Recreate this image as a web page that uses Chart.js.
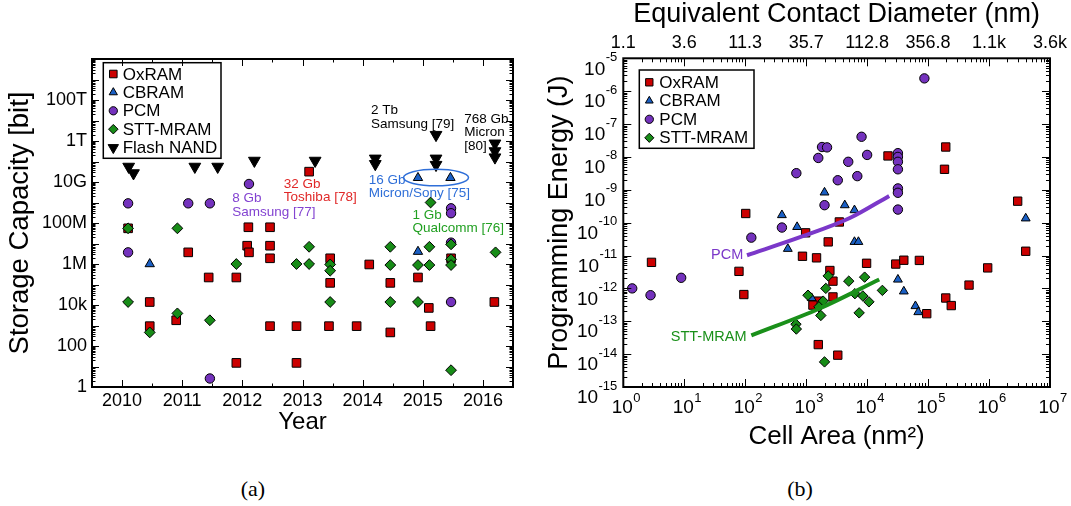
<!DOCTYPE html>
<html>
<head>
<meta charset="utf-8">
<title>Storage capacity and programming energy</title>
<script src="https://cdn.jsdelivr.net/npm/chart.js@4.4.1/dist/chart.umd.min.js"></script>
<style>
  body { margin: 0; background: #fff; }
  #page { position: relative; width: 1071px; height: 506px; overflow: hidden; background: #fff; }
  canvas { position: absolute; top: 0; }
  #chartA { left: 0; }
  #chartB { left: 535px; }
  .caption { position: absolute; top: 476px; width: 60px; text-align: center; font: 22px "Liberation Serif", serif; color: #000; }
</style>
</head>
<body>
<div id="page">
  <canvas id="chartA" width="535" height="470"></canvas>
  <canvas id="chartB" width="536" height="470"></canvas>
  <div class="caption" style="left:223px">(a)</div>
  <div class="caption" style="left:770px">(b)</div>
</div>
<script>
const FONT = "'Liberation Sans', Arial, sans-serif";
Chart.defaults.font.family = FONT;
Chart.defaults.color = '#000';

const RED = '#cc0000', BLUE = '#1a5fc4', PURPLE = '#7432bd', GREEN = '#178c17';

// ---------- (a) storage capacity per year ----------
const years = [2010, 2011, 2012, 2013, 2014, 2015, 2016];
const capTicks = [1, 1e2, 1e4, 1e6, 1e8, 1e10, 1e12, 1e14];
const capLabels = ['1', '100', '10k', '1M', '100M', '10G', '1T', '100T'];

const oxYear = [2010.1, 2012.1, 2012.46, 2012.08, 2012.11, 2012.46, 2012.46, 2011.1, 2011.44, 2011.9,
  2010.46, 2010.9, 2010.46, 2012.46, 2012.9, 2013.44, 2013.9, 2015.13, 2011.9, 2012.9,
  2013.11, 2013.46, 2013.46, 2014.11, 2014.46, 2014.46, 2014.92, 2015.1, 2015.47, 2016.19];
const oxBits = [5.5e7, 6.2e7, 6.2e7, 7.8e6, 3.7e6, 7.8e6, 1.9e6, 3.7e6, 2.2e5, 2.2e5,
  1.4e4, 1.8e3, 930, 930, 930, 930, 930, 930, 15, 15,
  3.2e10, 1.9e6, 1.2e5, 9.5e5, 1.2e5, 460, 2.2e5, 7.2e3, 1.9e6, 1.4e4];

const cbYear = [2010.46, 2014.92, 2015.46, 2014.92];
const cbBits = [1e6, 1.6e10, 1.6e10, 4e6];

const pcmYear = [2010.1, 2011.1, 2011.46, 2012.11, 2010.1, 2011.46, 2015.47, 2015.47, 2015.47, 2015.47];
const pcmBits = [9.1e8, 9.1e8, 9.1e8, 8e9, 3.7e6, 2.6, 5.2e8, 3e8, 1.1e7, 1.4e4];

const sttYear = [2010.1, 2010.92, 2013.11, 2011.9, 2012.9, 2013.11, 2010.1, 2010.92, 2011.46, 2010.46,
  2013.46, 2013.46, 2013.46, 2014.46, 2014.46, 2014.46, 2014.92, 2014.92, 2015.11, 2015.11,
  2015.13, 2015.47, 2015.47, 2015.47, 2015.47, 2016.21];
const sttBits = [5.5e7, 5.5e7, 6.9e6, 1e6, 1e6, 1e6, 1.4e4, 3.9e3, 1.8e3, 460,
  9.5e5, 4.7e5, 1.4e4, 6.9e6, 8.9e5, 1.4e4, 8.9e5, 1.4e4, 6.9e6, 8.9e5,
  1e9, 9.1e6, 1.7e6, 8.9e5, 6.6, 3.7e6];

const nandYear = [2010.11, 2010.19, 2011.21, 2011.59, 2012.2, 2013.21, 2014.21, 2014.21,
  2015.22, 2015.22, 2015.22, 2016.2, 2016.2, 2016.2];
const nandBits = [5.6e10, 2.7e10, 5.6e10, 5.6e10, 1.1e11, 1.1e11, 1.4e11, 7.6e10,
  2e12, 1.4e11, 6.9e10, 7.6e11, 3.2e11, 1.6e11];

// text notes beside the product points
const notesA = [
  { lines: ['8 Gb', 'Samsung [77]'], x: 2011.83, y: 1.6e9, color: '#8343d1' },
  { lines: ['32 Gb', 'Toshiba [78]'], x: 2012.69, y: 8.1e9, color: '#e02828' },
  { lines: ['2 Tb', 'Samsung [79]'], x: 2014.14, y: 3.1e13, color: '#000' },
  { lines: ['768 Gb', 'Micron', '[80]'], x: 2015.69, y: 1.17e13, color: '#000' },
  { lines: ['16 Gb', 'Micron/Sony [75]'], x: 2014.1, y: 1.26e10, color: '#2f6fd8' },
  { lines: ['1 Gb', 'Qualcomm [76]'], x: 2014.83, y: 2.45e8, color: '#22a022' }
];
const ringA = { x0: 2014.68, x1: 2015.76, y0: 6.5e9, y1: 4.2e10, color: '#2f6fd8' };

// ---------- (b) programming energy vs. cell area ----------
const areaPowers = ['0', '1', '2', '3', '4', '5', '6', '7'];
const energyPowers = ['-15', '-14', '-13', '-12', '-11', '-10', '-9', '-8', '-7', '-6', '-5'];
const areaTicks = areaPowers.map(p => 10 ** Number(p));
const diameterLabels = ['1.1', '3.6', '11.3', '35.7', '112.8', '356.8', '1.1k', '3.6k'];

const oxArea = [102, 2.2e4, 1.95e5, 1.86e5, 2.95e6, 3.5e3, 4.0e6, 2.3e3, 9.8e3, 2.95e4,
  4.0e4, 7.2e4, 9.5e5, 4.7e5, 1.95e5, 2.4e5, 9.5e4, 3.3e3, 2.75e3, 2.45e3,
  2.75e3, 980, 870, 1.48e3, 1.58e3, 1.29e3, 1.58e3, 2.9, 79, 95];
const oxEnergy = [1.9e-10, 1.07e-8, 2.0e-8, 4.2e-9, 4.5e-10, 1.05e-10, 1.35e-11, 2.6e-11, 5.8e-12, 5.5e-12,
  7.2e-12, 7.1e-12, 4.2e-12, 1.26e-12, 5.1e-13, 3.0e-13, 1.7e-13, 9.3e-15, 1.66e-12, 3.5e-12,
  5.5e-13, 4.9e-11, 9.5e-12, 8.5e-12, 4.1e-13, 3.1e-13, 1.95e-14, 6.2e-12, 3.3e-12, 6.5e-13];

const cbArea = [2.0e3, 400, 4.3e3, 6.2e3, 4.0e6, 6.2e3, 7.2e3, 3.2e4, 4.0e4, 6.2e4, 6.9e4, 710, 500, 1.23e3];
const cbEnergy = [8.3e-10, 1.7e-10, 3.4e-10, 2.4e-10, 1.35e-10, 2.6e-11, 2.6e-11, 1.86e-12, 8.1e-13, 2.9e-13,
  1.9e-13, 7.4e-11, 1.6e-11, 5.1e-13];

const pcmArea = [8.7e4, 1.82e3, 2.2e3, 1.58e3, 690, 3.3e3, 2.0e3, 8.1e3, 1.0e4, 4.9e3,
  6.9e3, 3.2e4, 3.2e4, 3.2e4, 3.2e4, 3.2e4, 3.2e4, 3.2e4, 400, 126,
  8.9, 1.4, 2.8];
const pcmEnergy = [2.45e-6, 2.0e-8, 1.95e-8, 9.3e-9, 3.2e-9, 1.95e-9, 3.4e-10, 4.1e-8, 1.15e-8, 7.1e-9,
  2.6e-9, 1.3e-8, 1.0e-8, 7.1e-9, 4.2e-9, 1.1e-9, 8.1e-10, 2.5e-10, 7.1e-11, 3.5e-11,
  2.1e-12, 1.0e-12, 6.2e-13];

const sttArea = [5.0e3, 9.1e3, 1.78e4, 6.3e3, 8.5e3, 1.07e4, 7.4e3, 2.3e3, 2.1e3, 1.07e3,
  1.9e3, 1.62e3, 1.74e3, 680, 690, 2.0e3];
const sttEnergy = [1.66e-12, 2.2e-12, 8.7e-13, 6.9e-13, 5.9e-13, 3.9e-13, 1.8e-13, 2.4e-12, 1.0e-12, 6.2e-13,
  4.1e-13, 2.75e-13, 1.5e-13, 8.1e-14, 5.8e-14, 5.8e-15];

// trend lines
const pcmFitArea = [107, 794, 5.2e3, 2.3e4];
const pcmFitEnergy = [1.02e-11, 3.6e-11, 1.38e-10, 6.5e-10];
const sttFitArea = [126, 1.66e3, 1.58e4];
const sttFitEnergy = [3.7e-14, 2.45e-13, 1.86e-12];

const lineNotesB = [
  { text: 'PCM', x: 93, y: 1.02e-11, color: '#7b38c9' },
  { text: 'STT-MRAM', x: 105, y: 3.3e-14, color: '#1a901a' }
];

// ---------- helpers ----------
const pts = (xs, ys) => xs.map((x, i) => ({ x, y: ys[i] }));
const decades = (lo, hi) => { const out = []; for (let e = lo; e <= hi; e++) out.push(10 ** e); return out; };
const minorLog = (lo, hi) => {
  const out = [];
  for (let e = lo; e < hi; e++) for (let k = 2; k < 10; k++) out.push(k * 10 ** e);
  return out;
};
const marker = (label, data, color, style, r, order, rot) => ({
  label, data, backgroundColor: color, borderColor: '#000', borderWidth: 1,
  pointStyle: style, pointRadius: r, pointRotation: rot || 0, order
});

// box and inward tick marks on all four sides
function frame(cfg) {
  return {
    id: 'frame',
    afterDatasetsDraw(chart) {
      const { ctx, chartArea: a } = chart;
      const xs = chart.scales.x, ys = chart.scales.y;
      ctx.save();
      ctx.strokeStyle = '#000';
      ctx.lineWidth = 1;
      ctx.beginPath();
      const vTicks = (vals, len) => vals.forEach(v => {
        const p = Math.round(xs.getPixelForValue(v)) + 0.5;
        ctx.moveTo(p, a.bottom); ctx.lineTo(p, a.bottom - len);
        ctx.moveTo(p, a.top); ctx.lineTo(p, a.top + len);
      });
      const hTicks = (vals, len) => vals.forEach(v => {
        const p = Math.round(ys.getPixelForValue(v)) + 0.5;
        ctx.moveTo(a.left, p); ctx.lineTo(a.left + len, p);
        ctx.moveTo(a.right, p); ctx.lineTo(a.right - len, p);
      });
      vTicks(cfg.xMajor, cfg.major); vTicks(cfg.xMinor, cfg.minor);
      hTicks(cfg.yMajor, cfg.major); hTicks(cfg.yMinor, cfg.minor);
      ctx.stroke();
      ctx.lineWidth = 2;
      ctx.strokeRect(a.left, a.top, a.right - a.left, a.bottom - a.top);
      ctx.restore();
    }
  };
}

// legend in a framed box inside the plot
function boxLegend(cfg) {
  return {
    id: 'boxLegend',
    afterDatasetsDraw(chart) {
      const { ctx, chartArea: a } = chart;
      const x0 = a.left + cfg.dx, y0 = a.top + cfg.dy;
      ctx.save();
      ctx.fillStyle = '#fff';
      ctx.fillRect(x0, y0, cfg.w, cfg.h);
      ctx.strokeStyle = '#000';
      ctx.lineWidth = 1.5;
      ctx.strokeRect(x0, y0, cfg.w, cfg.h);
      ctx.font = `${cfg.size}px ${FONT}`;
      ctx.textBaseline = 'middle';
      cfg.items.forEach((idx, i) => {
        const ds = chart.data.datasets[idx];
        const y = y0 + cfg.first + i * cfg.row;
        ctx.fillStyle = ds.backgroundColor;
        ctx.strokeStyle = '#000';
        ctx.lineWidth = 1;
        Chart.helpers.drawPoint(ctx, {
          pointStyle: ds.pointStyle, rotation: ds.pointRotation || 0,
          radius: ds.pointRadius * 0.88, borderWidth: 1
        }, x0 + cfg.mark, y);
        ctx.fillStyle = '#000';
        ctx.fillText(ds.label, x0 + cfg.text, y + 1);
      });
      ctx.restore();
    }
  };
}

// product notes and the ring around the CBRAM pair
const notesPlugin = {
  id: 'notes',
  afterDatasetsDraw(chart) {
    const { ctx } = chart;
    const xs = chart.scales.x, ys = chart.scales.y;
    ctx.save();
    ctx.font = `13.5px ${FONT}`;
    ctx.textAlign = 'left';
    ctx.textBaseline = 'middle';
    notesA.forEach(n => {
      const x = xs.getPixelForValue(n.x), y = ys.getPixelForValue(n.y);
      ctx.fillStyle = n.color;
      n.lines.forEach((t, i) => ctx.fillText(t, x, y + i * 13.5));
    });
    const ex0 = xs.getPixelForValue(ringA.x0), ex1 = xs.getPixelForValue(ringA.x1);
    const ey0 = ys.getPixelForValue(ringA.y0), ey1 = ys.getPixelForValue(ringA.y1);
    ctx.strokeStyle = ringA.color;
    ctx.lineWidth = 1.5;
    ctx.beginPath();
    ctx.ellipse((ex0 + ex1) / 2, (ey0 + ey1) / 2, Math.abs(ex1 - ex0) / 2, Math.abs(ey1 - ey0) / 2, 0, 0, Math.PI * 2);
    ctx.stroke();
    ctx.restore();
  }
};

// 10^n labels on the bottom and left axes of (b), plus trend line names
const powerLabels = {
  id: 'powerLabels',
  afterDraw(chart) {
    const { ctx, chartArea: a } = chart;
    const xs = chart.scales.x, ys = chart.scales.y;
    const big = `19px ${FONT}`, small = `13px ${FONT}`;
    ctx.save();
    ctx.fillStyle = '#000';
    ctx.textBaseline = 'middle';
    areaPowers.forEach(p => {
      const x = xs.getPixelForValue(10 ** Number(p));
      ctx.font = big;
      const bw = ctx.measureText('10').width;
      ctx.textAlign = 'center';
      ctx.fillText('10', x - 1, a.bottom + 21);
      ctx.font = small;
      ctx.textAlign = 'left';
      ctx.fillText(p, x - 1 + bw / 2 + 0.5, a.bottom + 11);
    });
    energyPowers.forEach(p => {
      const y = ys.getPixelForValue(10 ** Number(p));
      ctx.font = small;
      const ew = ctx.measureText(p).width;
      ctx.textAlign = 'right';
      ctx.fillText(p, a.left - 6, y - 1);
      ctx.font = big;
      ctx.fillText('10', a.left - 6 - ew - 0.5, y + 11);
    });
    ctx.font = `14.5px ${FONT}`;
    lineNotesB.forEach(n => {
      ctx.fillStyle = n.color;
      ctx.textAlign = 'right';
      ctx.fillText(n.text, xs.getPixelForValue(n.x), ys.getPixelForValue(n.y));
    });
    ctx.restore();
  }
};

const common = {
  responsive: false,
  animation: false,
  events: [],
  plugins: { legend: { display: false }, tooltip: { enabled: false } }
};
const noGrid = { display: false, drawTicks: false };

// ---------- chart (a) ----------
new Chart(document.getElementById('chartA'), {
  type: 'scatter',
  data: {
    datasets: [
      marker('OxRAM', pts(oxYear, oxBits), RED, 'rect', 6.1, 4),
      marker('CBRAM', pts(cbYear, cbBits), BLUE, 'triangle', 5.4, 3),
      marker('PCM', pts(pcmYear, pcmBits), PURPLE, 'circle', 4.7, 2),
      marker('STT-MRAM', pts(sttYear, sttBits), GREEN, 'rectRot', 5.4, 1),
      marker('Flash NAND', pts(nandYear, nandBits), '#000', 'triangle', 6.8, 5, 180)
    ]
  },
  options: {
    ...common,
    layout: { padding: { left: 0, right: 22, top: 59, bottom: 0 } },
    scales: {
      x: {
        type: 'linear', min: 2009.5, max: 2016.5,
        afterBuildTicks: s => { s.ticks = years.map(v => ({ value: v })); },
        afterFit: s => { s.height = 83; },
        grid: noGrid, border: { display: false },
        ticks: { padding: 3, font: { size: 18 }, autoSkip: false, maxRotation: 0, callback: v => String(v) },
        title: { display: true, text: 'Year', font: { size: 24, lineHeight: 1 }, padding: { top: 0, bottom: 36 } }
      },
      y: {
        type: 'logarithmic', min: 1, max: 1e16,
        afterBuildTicks: s => { s.ticks = capTicks.map(v => ({ value: v })); },
        afterFit: s => { s.width = 92; },
        grid: noGrid, border: { display: false },
        ticks: { padding: 5, font: { size: 18 }, autoSkip: false, callback: (v, i) => capLabels[i] },
        title: { display: true, text: 'Storage Capacity [bit]', font: { size: 27.5, lineHeight: 1 }, padding: { top: 6.5, bottom: 0 } }
      }
    }
  },
  plugins: [
    boxLegend({ dx: 11.3, dy: 3.7, w: 117.7, h: 95.6, first: 11.3, row: 18.4, mark: 10, text: 19.4, size: 17, items: [0, 1, 2, 3, 4] }),
    notesPlugin,
    frame({
      xMajor: years, xMinor: years.slice(0, -1).map(y => y + 0.5),
      yMajor: decades(0, 16), yMinor: minorLog(0, 16), major: 7, minor: 3.5
    })
  ]
});

// ---------- chart (b) ----------
new Chart(document.getElementById('chartB'), {
  type: 'scatter',
  data: {
    datasets: [
      { type: 'line', label: 'PCM fit', data: pts(pcmFitArea, pcmFitEnergy), showLine: true,
        borderColor: '#7b38c9', borderWidth: 4, pointRadius: 0, cubicInterpolationMode: 'monotone', order: 0 },
      { type: 'line', label: 'STT-MRAM fit', data: pts(sttFitArea, sttFitEnergy), showLine: true,
        borderColor: '#1a901a', borderWidth: 4, pointRadius: 0, cubicInterpolationMode: 'monotone', order: 0 },
      marker('OxRAM', pts(oxArea, oxEnergy), RED, 'rect', 5.9, 4),
      marker('CBRAM', pts(cbArea, cbEnergy), BLUE, 'triangle', 5.1, 3),
      marker('PCM', pts(pcmArea, pcmEnergy), PURPLE, 'circle', 4.7, 2),
      marker('STT-MRAM', pts(sttArea, sttEnergy), GREEN, 'rectRot', 5.2, 1)
    ]
  },
  options: {
    ...common,
    layout: { padding: { left: 0, right: 21, top: 0, bottom: 0 } },
    scales: {
      x: {
        type: 'logarithmic', position: 'bottom', min: 1, max: 1e7,
        afterFit: s => { s.height = 83; },
        grid: noGrid, border: { display: false },
        ticks: { display: false },
        title: { display: true, text: 'Cell Area (nm²)', font: { size: 26, lineHeight: 1 }, padding: { top: 0, bottom: 20 } }
      },
      x2: {
        type: 'logarithmic', position: 'top', min: 1, max: 1e7,
        afterBuildTicks: s => { s.ticks = areaTicks.map(v => ({ value: v })); },
        afterFit: s => { s.height = 58.3; },
        grid: noGrid, border: { display: false },
        ticks: { padding: 4, font: { size: 18 }, autoSkip: false, maxRotation: 0, callback: (v, i) => diameterLabels[i] },
        title: { display: true, text: 'Equivalent Contact Diameter (nm)', font: { size: 27, lineHeight: 1 }, padding: { top: 1.5, bottom: 0 } }
      },
      y: {
        type: 'logarithmic', min: 1e-15, max: 1e-5,
        afterFit: s => { s.width = 88.3; },
        grid: noGrid, border: { display: false },
        ticks: { display: false },
        title: { display: true, text: 'Programming Energy (J)', font: { size: 27, lineHeight: 1 }, padding: { top: 11.5, bottom: 0 } }
      }
    }
  },
  plugins: [
    boxLegend({ dx: 16, dy: 11.7, w: 114.7, h: 78.3, first: 12.3, row: 18.5, mark: 10, text: 20, size: 17, items: [2, 3, 4, 5] }),
    powerLabels,
    frame({
      xMajor: decades(0, 7), xMinor: minorLog(0, 7),
      yMajor: decades(-15, -5), yMinor: minorLog(-15, -5), major: 8, minor: 4
    })
  ]
});
</script>
</body>
</html>
